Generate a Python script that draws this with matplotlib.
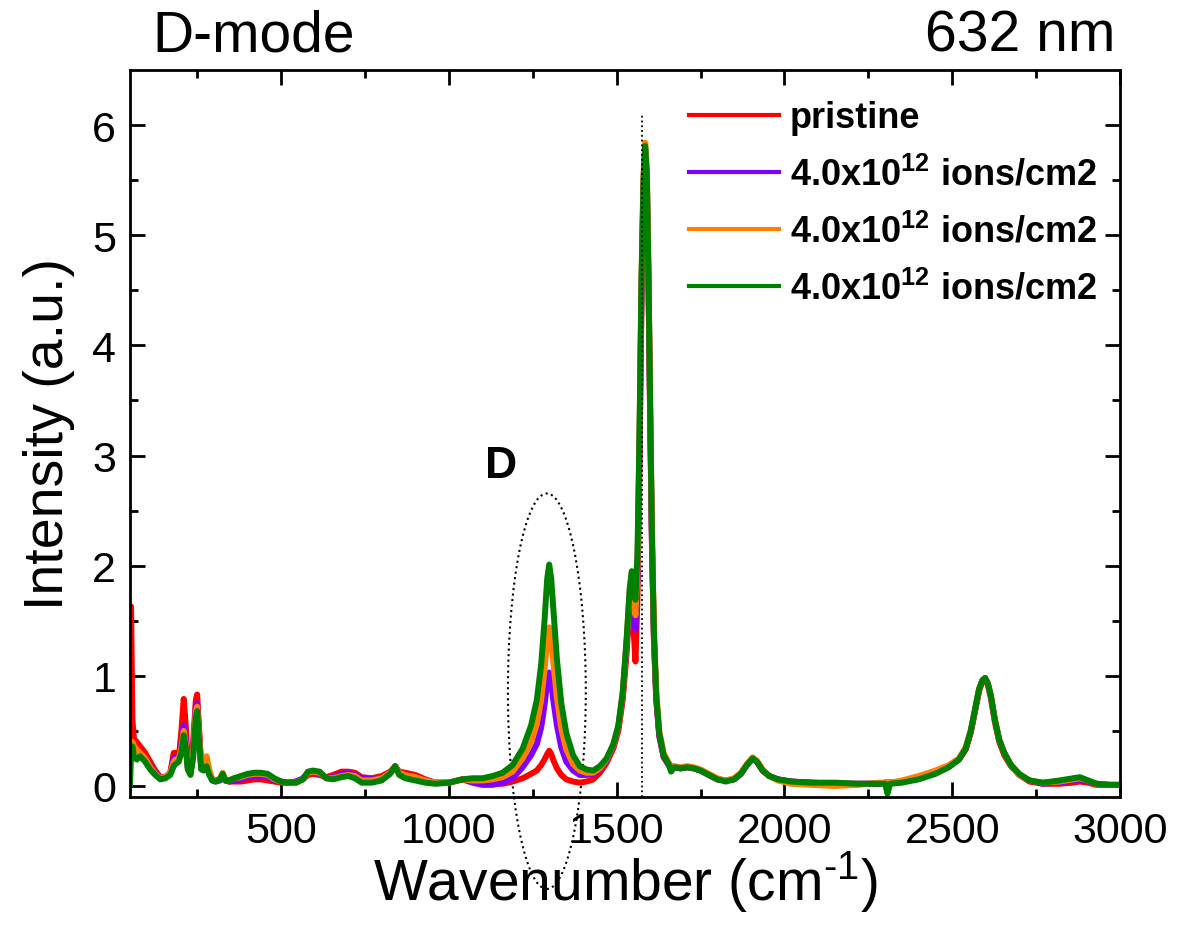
import matplotlib
matplotlib.use('Agg')
import matplotlib.pyplot as plt
from matplotlib.patches import Ellipse

plt.rcParams['font.family'] = ['Liberation Sans', 'DejaVu Sans']
plt.rcParams['mathtext.fontset'] = 'custom'
plt.rcParams['mathtext.rm'] = 'Liberation Sans'
plt.rcParams['mathtext.bf'] = 'Liberation Sans:bold'

# Raman shift (cm-1) sample points
wn = [50, 53, 57, 62, 70, 80, 95, 110, 125, 140, 155, 170, 180, 186, 195, 203, 210, 216, 222, 230,
      238, 246, 250, 256, 262, 270, 278, 286, 295, 305, 318, 326, 334, 345, 360, 380, 400, 420, 440, 460,
      480, 500, 520, 545, 565, 580, 595, 615, 635, 655, 680, 700, 720, 740, 770, 800, 825, 840, 852, 870,
      900, 930, 960, 1000, 1040, 1070, 1100, 1130, 1160, 1190, 1220, 1245, 1262, 1275, 1285, 1293, 1299, 1305, 1312, 1322,
      1335, 1350, 1370, 1390, 1410, 1430, 1450, 1470, 1490, 1505, 1518, 1530, 1539, 1545, 1550, 1556, 1562, 1568, 1574, 1580,
      1585, 1590, 1595, 1600, 1605, 1611, 1618, 1627, 1640, 1655, 1662, 1672, 1690, 1710, 1730, 1750, 1775, 1800, 1825, 1850,
      1870, 1888, 1905, 1918, 1935, 1955, 1980, 2020, 2080, 2150, 2220, 2280, 2300, 2307, 2315, 2350, 2400, 2450, 2490, 2520,
      2540, 2555, 2568, 2580, 2590, 2598, 2606, 2615, 2627, 2640, 2655, 2675, 2700, 2730, 2770, 2820, 2860, 2880, 2905, 2930,
      2970, 3000]

pristine = [1.20, 1.63, 0.60, 0.42, 0.40, 0.36, 0.30, 0.22, 0.14, 0.08, 0.08, 0.12, 0.30, 0.30, 0.25, 0.50, 0.79, 0.55, 0.20, 0.13,
            0.40, 0.78, 0.83, 0.50, 0.18, 0.16, 0.20, 0.12, 0.06, 0.05, 0.06, 0.09, 0.05, 0.04, 0.04, 0.04, 0.05, 0.06, 0.06, 0.05,
            0.04, 0.03, 0.03, 0.04, 0.06, 0.10, 0.11, 0.10, 0.08, 0.10, 0.13, 0.13, 0.12, 0.08, 0.07, 0.09, 0.13, 0.18, 0.13, 0.12,
            0.10, 0.06, 0.03, 0.03, 0.06, 0.05, 0.03, 0.02, 0.02, 0.04, 0.07, 0.11, 0.14, 0.19, 0.24, 0.29, 0.32, 0.29, 0.23, 0.16,
            0.10, 0.06, 0.04, 0.03, 0.04, 0.06, 0.12, 0.21, 0.34, 0.50, 0.78, 1.22, 1.64, 1.78, 1.45, 1.13, 1.70, 2.90, 4.40, 5.40,
            5.75, 5.45, 4.50, 3.30, 2.20, 1.32, 0.78, 0.45, 0.26, 0.19, 0.17, 0.17, 0.16, 0.17, 0.16, 0.14, 0.10, 0.06, 0.05, 0.06,
            0.11, 0.19, 0.25, 0.22, 0.14, 0.09, 0.06, 0.04, 0.03, 0.02, 0.02, 0.02, 0.03, 0.03, 0.03, 0.04, 0.07, 0.12, 0.18, 0.24,
            0.33, 0.48, 0.68, 0.86, 0.95, 0.97, 0.92, 0.80, 0.58, 0.40, 0.28, 0.18, 0.10, 0.04, 0.02, 0.02, 0.03, 0.04, 0.03, 0.01,
            0.01, 0.01]

dose_1 = [0.25, 0.35, 0.38, 0.34, 0.33, 0.30, 0.25, 0.18, 0.12, 0.07, 0.08, 0.12, 0.25, 0.26, 0.25, 0.38, 0.55, 0.42, 0.17, 0.12,
          0.32, 0.72, 0.75, 0.45, 0.17, 0.17, 0.22, 0.12, 0.05, 0.04, 0.05, 0.09, 0.05, 0.04, 0.05, 0.06, 0.08, 0.09, 0.09, 0.08,
          0.05, 0.04, 0.03, 0.04, 0.07, 0.12, 0.12, 0.11, 0.07, 0.08, 0.11, 0.12, 0.10, 0.07, 0.06, 0.07, 0.12, 0.17, 0.12, 0.10,
          0.08, 0.05, 0.03, 0.03, 0.06, 0.03, 0.01, 0.01, 0.03, 0.07, 0.17, 0.28, 0.38, 0.53, 0.73, 0.94, 1.03, 0.94, 0.76, 0.55,
          0.35, 0.22, 0.14, 0.10, 0.10, 0.11, 0.15, 0.23, 0.36, 0.53, 0.82, 1.30, 1.74, 1.88, 1.65, 1.42, 1.90, 3.05, 4.50, 5.45,
          5.78, 5.50, 4.55, 3.35, 2.25, 1.36, 0.80, 0.46, 0.27, 0.19, 0.17, 0.17, 0.16, 0.17, 0.16, 0.14, 0.10, 0.06, 0.05, 0.06,
          0.11, 0.19, 0.25, 0.22, 0.14, 0.09, 0.06, 0.04, 0.03, 0.02, 0.02, 0.02, 0.03, 0.03, 0.03, 0.04, 0.07, 0.12, 0.18, 0.24,
          0.34, 0.49, 0.69, 0.88, 0.96, 0.98, 0.93, 0.82, 0.60, 0.42, 0.30, 0.19, 0.10, 0.05, 0.02, 0.03, 0.05, 0.06, 0.04, 0.02,
          0.01, 0.01]

dose_2 = [0.30, 0.40, 0.40, 0.36, 0.33, 0.30, 0.25, 0.17, 0.11, 0.07, 0.08, 0.12, 0.22, 0.24, 0.24, 0.35, 0.50, 0.38, 0.16, 0.11,
          0.30, 0.68, 0.72, 0.45, 0.18, 0.20, 0.27, 0.15, 0.06, 0.05, 0.07, 0.12, 0.06, 0.05, 0.07, 0.08, 0.10, 0.11, 0.11, 0.10,
          0.06, 0.04, 0.03, 0.03, 0.06, 0.12, 0.13, 0.12, 0.07, 0.07, 0.09, 0.10, 0.09, 0.05, 0.05, 0.07, 0.12, 0.18, 0.12, 0.10,
          0.08, 0.05, 0.03, 0.03, 0.06, 0.05, 0.05, 0.06, 0.08, 0.13, 0.25, 0.40, 0.56, 0.78, 1.05, 1.32, 1.44, 1.33, 1.10, 0.80,
          0.52, 0.33, 0.20, 0.14, 0.12, 0.12, 0.16, 0.24, 0.37, 0.54, 0.84, 1.33, 1.78, 1.93, 1.75, 1.55, 2.00, 3.15, 4.60, 5.55,
          5.84, 5.60, 4.65, 3.45, 2.35, 1.42, 0.85, 0.50, 0.30, 0.21, 0.18, 0.18, 0.17, 0.18, 0.17, 0.15, 0.11, 0.07, 0.05, 0.07,
          0.12, 0.20, 0.26, 0.23, 0.15, 0.09, 0.05, 0.02, 0.01, 0.00, 0.01, 0.03, 0.03, 0.03, 0.03, 0.05, 0.09, 0.14, 0.19, 0.25,
          0.35, 0.50, 0.70, 0.88, 0.96, 0.98, 0.93, 0.82, 0.60, 0.42, 0.30, 0.19, 0.10, 0.05, 0.03, 0.04, 0.06, 0.07, 0.05, 0.02,
          0.01, 0.01]

dose_3 = [0.02, 0.30, 0.36, 0.26, 0.24, 0.27, 0.22, 0.15, 0.10, 0.06, 0.07, 0.10, 0.18, 0.20, 0.22, 0.30, 0.46, 0.35, 0.15, 0.10,
          0.25, 0.62, 0.68, 0.40, 0.15, 0.14, 0.18, 0.10, 0.05, 0.04, 0.06, 0.11, 0.05, 0.05, 0.07, 0.09, 0.11, 0.12, 0.12, 0.11,
          0.07, 0.04, 0.03, 0.03, 0.06, 0.13, 0.14, 0.13, 0.07, 0.06, 0.08, 0.09, 0.07, 0.03, 0.03, 0.05, 0.11, 0.18, 0.10, 0.07,
          0.05, 0.03, 0.02, 0.03, 0.06, 0.07, 0.07, 0.09, 0.12, 0.19, 0.34, 0.55, 0.78, 1.10, 1.50, 1.88, 2.01, 1.88, 1.58, 1.15,
          0.75, 0.48, 0.28, 0.18, 0.15, 0.14, 0.18, 0.25, 0.38, 0.55, 0.85, 1.35, 1.80, 1.95, 1.85, 1.69, 2.10, 3.20, 4.60, 5.50,
          5.81, 5.55, 4.60, 3.40, 2.30, 1.40, 0.82, 0.48, 0.28, 0.20, 0.13, 0.17, 0.16, 0.17, 0.16, 0.14, 0.10, 0.06, 0.04, 0.06,
          0.11, 0.19, 0.25, 0.22, 0.14, 0.09, 0.06, 0.04, 0.03, 0.03, 0.02, 0.02, 0.02, -0.07, 0.02, 0.03, 0.06, 0.11, 0.17, 0.24,
          0.34, 0.50, 0.70, 0.88, 0.96, 0.98, 0.93, 0.82, 0.60, 0.42, 0.30, 0.19, 0.11, 0.05, 0.03, 0.05, 0.07, 0.08, 0.05, 0.02,
          0.01, 0.01]

labels = ['pristine',
          r'4.0x10$^{\mathbf{12}}$ ions/cm2',
          r'4.0x10$^{\mathbf{12}}$ ions/cm2',
          r'4.0x10$^{\mathbf{12}}$ ions/cm2']
colors = ['#ff0000', '#8000ff', '#ff8000', '#008000']

fig = plt.figure(figsize=(11.78, 9.28), dpi=100)
ax = fig.add_axes([0.1104, 0.1401, 0.8404, 0.7834])

for ys, lab, c in zip([pristine, dose_1, dose_2, dose_3], labels, colors):
    ax.plot(wn, ys, color=c, lw=4.3, label=lab, solid_joinstyle='round')

# G-peak guide and D-band marker
ax.plot([1575, 1575], [-0.1, 6.1], ls=':', color='black', lw=1.3)
ax.add_patch(Ellipse((1292, 0.86), 232, 3.59, fill=False, ls=':', lw=1.5,
                     color='black', clip_on=False))
ax.text(1155, 2.91, 'D', fontsize=32, fontweight='bold', ha='center', va='center')

ax.set_xlim(50, 3000)
ax.set_ylim(-0.1, 6.5)
ax.set_xticks([500, 1000, 1500, 2000, 2500, 3000])
ax.set_xticks(range(250, 3000, 500), minor=True)
ax.set_yticks(range(0, 7))
ax.set_yticks([0.5, 1.5, 2.5, 3.5, 4.5, 5.5], minor=True)
ax.tick_params(which='both', direction='in', top=True, right=True, width=2,
               labelsize=31, pad=10)
ax.tick_params(which='major', length=11)
ax.tick_params(which='minor', length=6)
for s in ax.spines.values():
    s.set_linewidth(2)

ax.set_xlabel(r'Wavenumber (cm$^{\text{-1}}$)', fontsize=41, labelpad=-2)
ax.set_ylabel('Intensity (a.u.)', fontsize=40, labelpad=12)

leg = ax.legend(loc='upper left', bbox_to_anchor=(0.550, 0.978), frameon=False,
                prop={'weight': 'bold', 'size': 26}, handlelength=2.5,
                handletextpad=0.3, labelspacing=0.58, borderaxespad=0)
for h in leg.get_lines():
    h.set_linewidth(3)

fig.text(0.129, 0.944, 'D-mode', fontsize=41, ha='left', va='baseline')
fig.text(0.9465, 0.944, '632 nm', fontsize=41, ha='right', va='baseline')

fig.savefig('out.png', dpi=100)
